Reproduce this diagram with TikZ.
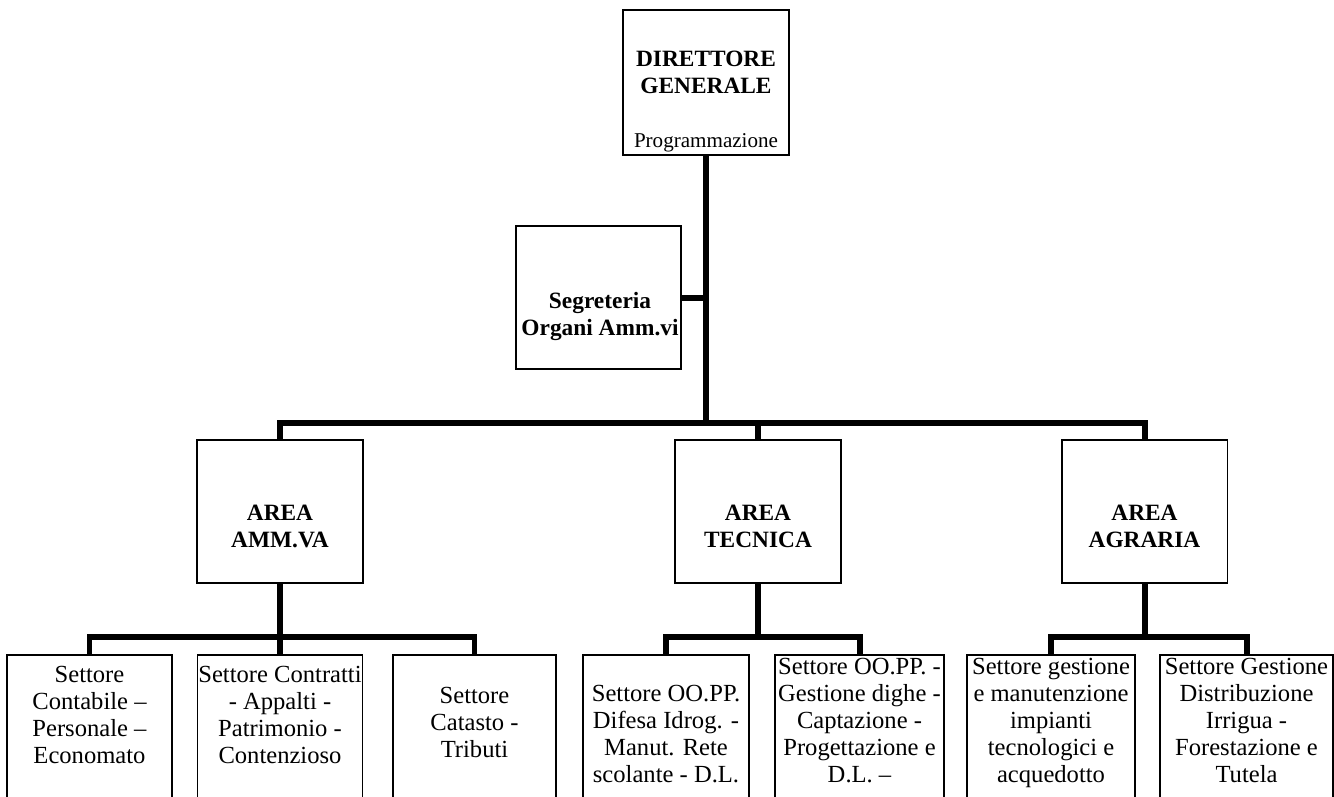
\documentclass[tikz,border=0pt]{standalone}
\usepackage{fontspec}
\setmainfont{Liberation Serif}
\usetikzlibrary{positioning}

\begin{document}
\begin{tikzpicture}[x=0.02cm, y=-0.02cm,
    box/.style={draw, line width=1.1pt, rectangle, inner sep=0pt, minimum width=3.32cm, minimum height=2.86cm},
    subbox/.style={box, minimum height=3.5cm},
    link/.style={line width=3.4pt},
    head/.style={font=\fontsize{13.3}{15}\selectfont\bfseries, align=center, anchor=base, inner sep=0pt},
    txt/.style={font=\fontsize{14}{15.3}\selectfont, align=center, anchor=base, inner sep=0pt}]
  \useasboundingbox (0,0) rectangle (1334,796);
  \clip (0,0) rectangle (1334,796);

  \node[box, minimum height=2.9cm] (dg) at (706,82.5) {};
  \node[head] (dgname) at (706,93) {DIRETTORE\\GENERALE};
  \node[txt, font=\fontsize{12}{13}\selectfont] (prog) at (706,147) {Programmazione};

  \node[box, minimum width=3.3cm] (seg) at (598.5,297.5) {};
  \node[head] (segname) at (600,335) {Segreteria\\Organi Amm.vi};

  \node[box] (amm) at (280,511.5) {};
  \node[box] (tec) at (758,511.5) {};
  \node[box] (agr) at (1144.5,511.5) {};
  \node[head] (ammname) at (280,547) {AREA\\AMM.VA};
  \node[head] (tecname) at (758,547) {AREA\\TECNICA};
  \node[head] (agrname) at (1144.5,547) {AREA\\AGRARIA};

  \node[subbox, minimum width=3.3cm] (s11) at (89.5,742.5) {};
  \node[subbox, minimum width=3.3cm] (s12) at (280,742.5) {};
  \node[subbox, minimum width=3.26cm] (s13) at (474.5,742.5) {};
  \node[subbox] (s21) at (666,742.5) {};
  \node[subbox, minimum width=3.38cm] (s22) at (859.5,742.5) {};
  \node[subbox, minimum width=3.36cm] (s31) at (1051,742.5) {};
  \node[subbox, minimum width=3.46cm] (s32) at (1246.5,742.5) {};

  \node[txt] (t11) at (89.5,763) {Settore\\Contabile –\\Personale –\\Economato};
  \node[txt] (t12) at (280,763) {Settore Contratti\\- Appalti -\\Patrimonio -\\Contenzioso};
  \node[txt] (t13) at (474.5,757) {Settore\\Catasto -\\Tributi};
  \node[txt] (t21) at (666,782) {Settore OO.PP.\\Difesa Idrog. -\\Manut. Rete\\scolante - D.L.};
  \node[txt] (t22) at (859.5,782) {Settore OO.PP. -\\Gestione dighe -\\Captazione -\\Progettazione e\\D.L. –};
  \node[txt] (t31) at (1051,782) {Settore gestione\\e manutenzione\\impianti\\tecnologici e\\acquedotto};
  \node[txt] (t32) at (1246.5,782) {Settore Gestione\\Distribuzione\\Irrigua -\\Forestazione e\\Tutela};

  \draw[link] (amm.north) -- ++(0,-16) coordinate (mainbar) -| (agr.north);
  \draw[link] (dg.south) -- (dg.south |- mainbar);
  \draw[link] (tec.north) -- (tec.north |- mainbar);
  \draw[link] (seg.east) -- (seg.east -| dg.south);

  \draw[link] (s11.north) -- ++(0,-17) -| (s13.north);
  \draw[link] (amm.south) -- (s12.north);
  \draw[link] (s21.north) -- ++(0,-17) coordinate (tecbar) -| (s22.north);
  \draw[link] (tec.south) -- (tec.south |- tecbar);
  \draw[link] (s31.north) -- ++(0,-17) coordinate (agrbar) -| (s32.north);
  \draw[link] (agr.south) -- (agr.south |- agrbar);
\end{tikzpicture}
\end{document}
